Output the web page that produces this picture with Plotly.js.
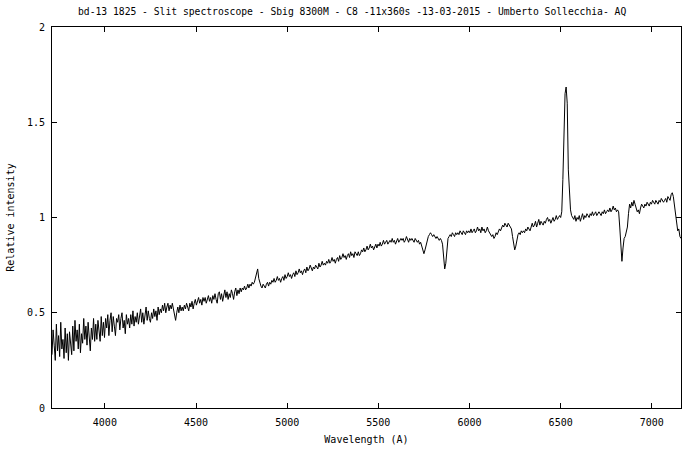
<!DOCTYPE html>
<html>
<head>
<meta charset="utf-8">
<script src="https://cdn.plot.ly/plotly-3.0.1.min.js"></script>
<style>html,body{margin:0;padding:0;background:#fff;}#chart{width:700px;height:450px;}</style>
</head>
<body>
<div id="chart"></div>
<script>
// Spectrum sampled on a regular wavelength grid (Angstrom)
const lambdaStart = 3710;
const lambdaStep = 6;
// Relative intensity values, one per grid step (10 per row = 60 A)
const intensity = [
  0.28,0.41,0.33,0.25,0.44,0.30,0.38,0.27,0.45,0.31,
  0.36,0.26,0.42,0.29,0.39,0.25,0.40,0.33,0.28,0.43,
  0.30,0.46,0.35,0.41,0.31,0.44,0.29,0.39,0.34,0.47,
  0.36,0.43,0.33,0.45,0.38,0.30,0.42,0.36,0.47,0.35,
  0.44,0.36,0.46,0.40,0.35,0.48,0.38,0.45,0.37,0.47,
  0.42,0.49,0.38,0.46,0.50,0.40,0.48,0.43,0.38,0.47,
  0.45,0.49,0.41,0.47,0.50,0.42,0.46,0.39,0.49,0.44,
  0.47,0.42,0.49,0.44,0.51,0.43,0.48,0.45,0.50,0.44,
  0.48,0.52,0.45,0.50,0.44,0.49,0.53,0.46,0.51,0.47,
  0.45,0.50,0.47,0.52,0.48,0.51,0.46,0.53,0.49,0.52,
  0.50,0.54,0.51,0.55,0.50,0.53,0.55,0.51,0.54,0.52,
  0.55,0.52,0.49,0.46,0.50,0.53,0.50,0.54,0.51,0.53,
  0.51,0.54,0.52,0.55,0.53,0.51,0.55,0.53,0.56,0.52,
  0.55,0.57,0.54,0.56,0.58,0.55,0.57,0.54,0.58,0.56,
  0.58,0.55,0.57,0.59,0.56,0.58,0.55,0.59,0.57,0.60,
  0.57,0.55,0.60,0.61,0.57,0.60,0.56,0.59,0.62,0.58,
  0.61,0.57,0.60,0.58,0.62,0.60,0.57,0.61,0.63,0.59,
  0.62,0.60,0.63,0.61,0.63,0.62,0.64,0.62,0.63,0.65,
  0.63,0.65,0.64,0.66,0.65,0.66,0.68,0.70,0.73,0.68,
  0.65,0.64,0.63,0.65,0.64,0.63,0.65,0.66,0.64,0.66,
  0.65,0.67,0.66,0.68,0.66,0.67,0.69,0.67,0.68,0.66,
  0.68,0.69,0.67,0.70,0.68,0.69,0.71,0.69,0.70,0.68,
  0.70,0.71,0.69,0.72,0.70,0.71,0.73,0.71,0.72,0.70,
  0.72,0.73,0.71,0.74,0.72,0.73,0.75,0.73,0.72,0.74,
  0.73,0.75,0.74,0.73,0.76,0.74,0.75,0.77,0.75,0.76,
  0.75,0.77,0.76,0.78,0.76,0.77,0.79,0.77,0.78,0.76,
  0.78,0.79,0.77,0.80,0.78,0.79,0.81,0.79,0.80,0.78,
  0.80,0.81,0.79,0.82,0.80,0.81,0.79,0.82,0.81,0.80,
  0.82,0.80,0.81,0.83,0.82,0.84,0.82,0.83,0.85,0.83,
  0.84,0.86,0.84,0.85,0.83,0.85,0.86,0.84,0.86,0.85,
  0.87,0.85,0.86,0.88,0.86,0.87,0.88,0.86,0.87,0.88,
  0.87,0.89,0.87,0.88,0.86,0.88,0.89,0.87,0.88,0.89,
  0.88,0.89,0.87,0.88,0.90,0.88,0.87,0.89,0.88,0.89,
  0.88,0.87,0.89,0.88,0.87,0.88,0.86,0.87,0.85,0.82,
  0.81,0.83,0.86,0.88,0.90,0.91,0.92,0.91,0.90,0.91,
  0.90,0.89,0.90,0.89,0.88,0.89,0.88,0.86,0.80,0.73,
  0.76,0.85,0.89,0.90,0.91,0.90,0.92,0.91,0.90,0.92,
  0.91,0.92,0.91,0.93,0.92,0.91,0.93,0.92,0.91,0.93,
  0.92,0.93,0.92,0.94,0.92,0.93,0.94,0.92,0.93,0.95,
  0.93,0.94,0.92,0.95,0.93,0.94,0.92,0.93,0.95,0.93,
  0.92,0.91,0.90,0.91,0.89,0.90,0.92,0.91,0.93,0.94,
  0.93,0.95,0.96,0.95,0.97,0.96,0.95,0.97,0.96,0.95,
  0.94,0.90,0.86,0.83,0.85,0.89,0.91,0.92,0.91,0.93,
  0.92,0.93,0.92,0.94,0.93,0.95,0.94,0.93,0.95,0.97,
  0.95,0.96,0.98,0.95,0.97,0.99,0.96,0.98,0.97,0.96,
  0.98,0.97,0.99,1.00,0.98,0.99,0.97,0.99,1.00,0.98,
  0.99,1.01,0.99,1.00,1.01,1.00,1.03,1.20,1.40,1.65,
  1.685,1.60,1.25,1.10,1.04,1.01,1.00,0.99,1.01,0.98,
  1.00,0.99,1.01,0.98,1.00,1.02,0.99,1.01,1.00,1.02,
  1.01,1.00,1.02,1.01,1.03,1.01,1.02,1.03,1.01,1.02,
  1.03,1.02,1.01,1.03,1.02,1.04,1.02,1.03,1.04,1.03,
  1.05,1.03,1.04,1.06,1.04,1.05,1.03,1.04,1.03,0.95,
  0.85,0.77,0.84,0.89,0.90,0.92,0.95,1.02,1.07,1.05,
  1.08,1.06,1.09,1.07,1.04,1.03,1.04,1.02,1.05,1.07,
  1.06,1.05,1.07,1.06,1.08,1.07,1.06,1.08,1.07,1.09,
  1.08,1.07,1.09,1.08,1.07,1.09,1.08,1.10,1.09,1.08,
  1.09,1.10,1.08,1.11,1.10,1.09,1.12,1.13,1.11,1.06,
  1.01,0.97,0.93,0.94,0.90,0.89
];
const wavelength = intensity.map((_, i) => lambdaStart + lambdaStep * i);

const xTicks = [4000, 4500, 5000, 5500, 6000, 6500, 7000];
const yTicks = [0, 0.5, 1, 1.5, 2];
const yTickLabels = ['0', '0.5', '1', '1.5', '2'];

const titleText = 'bd-13 1825 - Slit spectroscope - Sbig 8300M - C8 -11x360s -13-03-2015 - Umberto Sollecchia- AQ';
const font = {family: '"DejaVu Sans Mono", "Liberation Mono", monospace', size: 10, color: '#000'};

const trace = {
  x: wavelength, y: intensity, type: 'scatter', mode: 'lines',
  line: {color: '#000', width: 1}, hoverinfo: 'x+y'
};

const axisCommon = {
  showline: true, linecolor: '#000', linewidth: 1, mirror: 'ticks',
  ticks: 'inside', ticklen: 5, tickwidth: 1, tickcolor: '#000',
  showgrid: false, zeroline: false, tickfont: font, fixedrange: true
};

const layout = {
  width: 700, height: 450,
  paper_bgcolor: '#fff', plot_bgcolor: '#fff',
  margin: {l: 52, r: 19, t: 27, b: 42},
  font: font,
  showlegend: false,
  title: {text: titleText, font: {family: font.family, size: 9.7, color: '#000'}, x: 0.503, xanchor: 'center', y: 0.975, yanchor: 'middle'},
  xaxis: Object.assign({}, axisCommon, {
    range: [3710, 7160], tickvals: xTicks, ticklabelstandoff: 5,
    title: {text: 'Wavelength (A)', font: font, standoff: 8}
  }),
  yaxis: Object.assign({}, axisCommon, {
    range: [0, 2], tickvals: yTicks, ticktext: yTickLabels, ticklabelstandoff: 4,
    title: {text: 'Relative intensity', font: font, standoff: 10}
  })
};

Plotly.newPlot('chart', [trace], layout, {displayModeBar: false});
</script>
</body>
</html>
